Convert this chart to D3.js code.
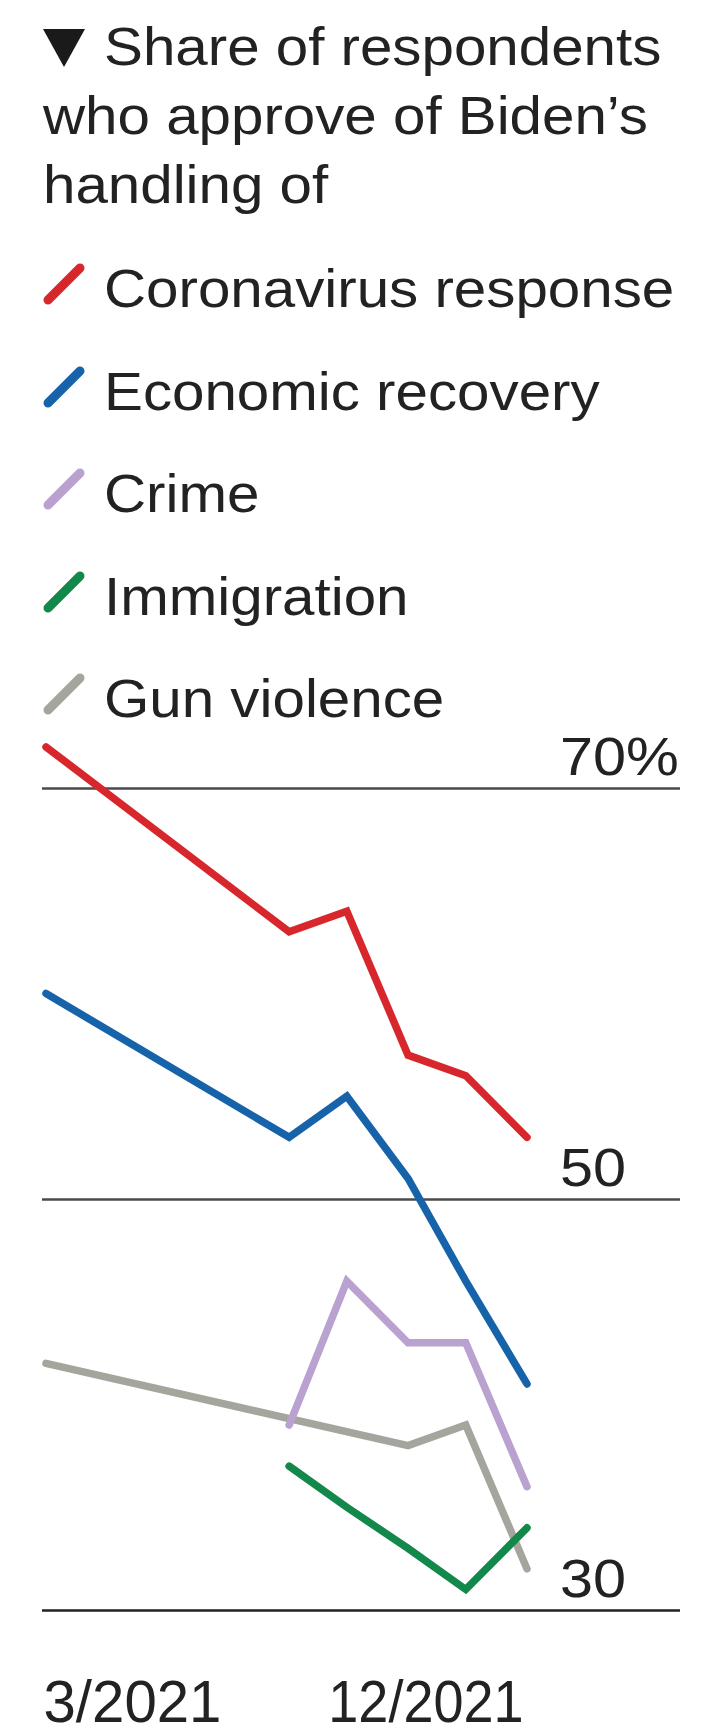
<!DOCTYPE html>
<html><head><meta charset="utf-8">
<script src="https://cdn.jsdelivr.net/npm/d3@7"></script>
<style>
body{margin:0;background:#fff}
svg{display:block;background:#fff}
text{font-family:"Liberation Sans",Arial,Helvetica,sans-serif;fill:#222}
</style>
</head><body><svg id="c" width="724" height="1735"></svg>
<script>
// ---- data ----
const titleLines = ["Share of respondents", "who approve of Biden\u2019s", "handling of"];
const surveyDates = ["2021-03-01", "2021-07-18", "2021-08-20", "2021-09-24", "2021-10-27", "2021-12-01"];
const seriesNames = ["Coronavirus response", "Economic recovery", "Crime", "Immigration", "Gun violence"];
const coronavirus = [72, 63, 64, 57, 56, 53];
const economy     = [60, 53, 55, 51, 46, 41];
const crime       = [null, 39, 46, 43, 43, 36];
const immigration = [null, 37, 35, 33, 31, 34];
const gunViolence = [42, null, null, 38, 39, 32];
const yTicks = [30, 50, 70];
const xTickDates = ["2021-03-01", "2021-12-01"];
const xTickLabels = ["3/2021", "12/2021"];

// ---- styles ----
const colors = ["#d8272c", "#1763aa", "#b9a2d0", "#13884b", "#a5a59e"];
const FS = 53, SX = 1.1;

const parse = d3.timeParse("%Y-%m-%d");
const dates = surveyDates.map(parse);
const svg = d3.select("#c");

// title
const tg = svg.append("g");
tg.append("path").attr("d", "M43,29 L85,29 L64,67 Z").attr("fill", "#1a1a1a");
const titleX = [104, 43, 43], titleY = [65, 134, 203];
titleLines.forEach((t, i) => {
  tg.append("text").attr("transform", `translate(${titleX[i]},${titleY[i]}) scale(${SX},1)`)
    .attr("font-size", FS).text(t);
});

// legend
const legendY = [307, 410, 512, 615, 717];
const lg = svg.append("g");
seriesNames.forEach((n, i) => {
  const by = legendY[i];
  lg.append("line").attr("x1", 48).attr("y1", by - 7).attr("x2", 80).attr("y2", by - 39)
    .attr("stroke", colors[i]).attr("stroke-width", 9).attr("stroke-linecap", "round");
  lg.append("text").attr("transform", `translate(104,${by}) scale(${SX},1)`)
    .attr("font-size", FS).text(n);
});

// scales
const x = d3.scaleTime().domain([dates[0], dates[dates.length - 1]]).range([46, 527]);
const y = d3.scaleLinear().domain([30, 70]).range([1610, 788]);

// gridlines + y labels via axis
const gx0 = 42, gx1 = 680;
const yAxis = d3.axisRight(y).tickValues(yTicks).tickSize(gx1 - gx0)
  .tickFormat(d => d === 70 ? d + "%" : d);
const ya = svg.append("g").attr("transform", `translate(${gx0},0)`).call(yAxis);
ya.select(".domain").remove();
ya.selectAll(".tick line").attr("stroke", d => d === 30 ? "#222" : "#4a4a4a").attr("stroke-width", 2.4);
ya.selectAll(".tick text")
  .attr("x", null).attr("dy", null).attr("text-anchor", "start")
  .attr("font-size", 54).attr("font-family", '"Liberation Sans",Arial,sans-serif').attr("fill", "#222")
  .attr("transform", `translate(${560 - gx0},-14) scale(${SX},1)`);

// x labels via axis
const xLabelScale = [0.97, 0.9];
const xAxis = d3.axisBottom(x).tickValues(xTickDates.map(parse)).tickSize(0)
  .tickFormat((d, i) => xTickLabels[i]);
const xa = svg.append("g").attr("transform", "translate(0,1722)").call(xAxis);
xa.select(".domain").remove();
xa.selectAll(".tick text")
  .attr("y", 0).attr("dy", null)
  .attr("font-size", 60).attr("font-family", '"Liberation Sans",Arial,sans-serif').attr("fill", "#222")
  .attr("text-anchor", (d, i) => i === 0 ? "start" : "end")
  .attr("transform", (d, i) => `translate(${i === 0 ? -3 : -4},0) scale(${xLabelScale[i]},1)`);

// lines (draw order: gray, crime, immigration, economy, coronavirus)
const series = [coronavirus, economy, crime, immigration, gunViolence];
const order = [4, 2, 3, 1, 0];
const line = d3.line().x(d => x(d.date)).y(d => y(d.v));
order.forEach(k => {
  const pts = series[k].map((v, i) => ({date: dates[i], v})).filter(p => p.v != null);
  svg.append("path").datum(pts).attr("d", line)
    .attr("fill", "none").attr("stroke", colors[k]).attr("stroke-width", 7.5)
    .attr("stroke-linecap", "round").attr("stroke-linejoin", "miter");
});
</script>
</body></html>
